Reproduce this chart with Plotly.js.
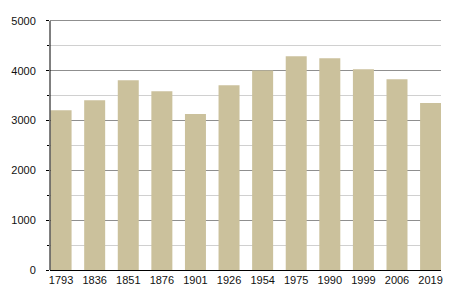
<!DOCTYPE html>
<html><head><meta charset="utf-8">
<script src="https://cdn.plot.ly/plotly-3.0.1.min.js"></script>
<style>html,body{margin:0;padding:0;background:#fff}#c{width:450px;height:300px}</style>
</head><body><div id="c"></div>
<script>
const years = ["1793","1836","1851","1876","1901","1926","1954","1975","1990","1999","2006","2019"];
const population = [3210, 3410, 3810, 3590, 3130, 3710, 4005, 4290, 4250, 4030, 3830, 3355];

Plotly.newPlot('c', [{
  type: 'bar', x: years, y: population,
  marker: {color: '#cbc19c'}, width: 0.625, hoverinfo: 'skip'
}], {
  width: 450, height: 300,
  margin: {l: 50, r: 9, t: 15, b: 30},
  paper_bgcolor: '#fff', plot_bgcolor: '#fff',
  font: {family: 'Liberation Sans, Arial, sans-serif', size: 11, color: '#111'},
  showlegend: false,
  xaxis: {type: 'category', range: [-0.33, 11.31], showline: true, linecolor: '#000', linewidth: 1,
          ticks: '', showgrid: false, zeroline: false, tickfont: {size: 11}},
  yaxis: {range: [0, 5120], tickvals: [0, 1000, 2000, 3000, 4000, 5000], showline: false,
          ticks: 'outside', ticklen: 3, tickcolor: '#000', showgrid: true, gridcolor: '#8f8f8f',
          zeroline: false, tickfont: {size: 11}, ticklabelstandoff: 8,
          minor: {tickvals: [500, 1500, 2500, 3500, 4500], showgrid: true, gridcolor: '#d0d0d0', ticks: 'outside', ticklen: 2, tickcolor: '#000'}},
  shapes: [{type: 'line', xref: 'paper', yref: 'y', x0: 0, x1: 0, y0: 0, y1: 5000, line: {color: '#000', width: 1}}]
}, {displayModeBar: false, staticPlot: true});
</script></body></html>
